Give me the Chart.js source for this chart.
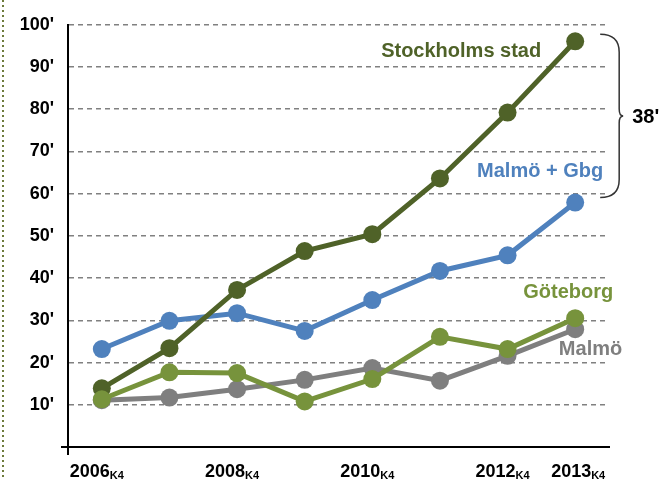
<!DOCTYPE html>
<html>
<head>
<meta charset="utf-8">
<script src="https://cdn.jsdelivr.net/npm/chart.js@4"></script>
<style>
  html, body { margin: 0; padding: 0; background: #fff; }
  #wrap { position: relative; width: 661px; height: 479px; }
  #edge {
    position: absolute; left: 2px; top: 0; width: 2px; height: 479px;
    background: repeating-linear-gradient(to bottom, #6E7B3B 0 2px, transparent 2px 5px);
  }
</style>
</head>
<body>
<div id="wrap">
  <div id="edge"></div>
  <canvas id="chart" width="661" height="479"></canvas>
</div>
<script>
const FONT = '"Liberation Sans", Arial, sans-serif';

const years      = ["2006", "2007", "2008", "2009", "2010", "2011", "2012", "2013"];
const tickYears  = ["2006", "2008", "2010", "2012", "2013"];
const tickSub    = "K4";

const stockholm  = [13.9, 23.4, 37.2, 46.4, 50.4, 63.6, 79.2, 96.1];
const malmoGbg   = [23.2, 29.9, 31.7, 27.5, 34.8, 41.7, 45.4, 57.9];
const goteborg   = [11.3, 17.7, 17.5, 10.8, 16.1, 26.1, 23.2, 30.5];
const malmo      = [11.1, 11.7, 13.7, 15.9, 18.7, 15.7, 21.6, 27.9];

const COLORS = {
  stockholm: "#4F6228", malmoGbg: "#4F81BD", goteborg: "#77933C", malmo: "#7F7F7F",
};

function series(label, data, color, order) {
  return {
    label, data, order,
    borderColor: color,
    backgroundColor: color,
    borderWidth: 5,
    pointRadius: 9,
    pointHoverRadius: 9,
    pointBorderWidth: 0,
    pointBackgroundColor: color,
    tension: 0,
  };
}

// labels, subscript ticks, brace, axis stubs
const extras = {
  id: "extras",
  afterDraw(chart) {
    const { ctx, chartArea: a, scales: { x, y } } = chart;
    const last = years[years.length - 1];
    const px = x.getPixelForValue(years.indexOf(last));

    ctx.save();

    // axis stubs past the corner
    ctx.strokeStyle = "#000";
    ctx.lineWidth = 2;
    ctx.beginPath();
    ctx.moveTo(a.left - 7, a.bottom);
    ctx.lineTo(a.left, a.bottom);
    ctx.moveTo(a.left, a.bottom);
    ctx.lineTo(a.left, a.bottom + 8);
    ctx.stroke();

    // x tick labels with subscript
    ctx.fillStyle = "#000";
    ctx.textBaseline = "alphabetic";
    ctx.textAlign = "left";
    tickYears.forEach((yr, i) => {
      const cx = x.getPixelForValue(years.indexOf(yr));
      ctx.font = `bold 18px ${FONT}`;
      const w1 = ctx.measureText(yr).width;
      ctx.font = `bold 11px ${FONT}`;
      const w2 = ctx.measureText(tickSub).width;
      const shift = i === tickYears.length - 1 ? 3 : -5;
      const sx = cx - (w1 + w2) / 2 + shift;
      ctx.font = `bold 18px ${FONT}`;
      ctx.fillText(yr, sx, a.bottom + 30);
      ctx.font = `bold 11px ${FONT}`;
      ctx.fillText(tickSub, sx + w1, a.bottom + 32);
    });

    // series labels
    ctx.font = `bold 20px ${FONT}`;
    ctx.textAlign = "right";
    ctx.textBaseline = "middle";
    const tags = [
      ["Stockholms stad", COLORS.stockholm, -34, 93.9],
      ["Malmö + Gbg",     COLORS.malmoGbg,  28, 65.6],
      ["Göteborg",        COLORS.goteborg,  38, 36.8],
      ["Malmö",           COLORS.malmo,     47, 23.4],
    ];
    tags.forEach(([txt, col, dx, v]) => {
      ctx.fillStyle = col;
      ctx.fillText(txt, px + dx, y.getPixelForValue(v) + 1);
    });

    // brace between Stockholm and Malmö + Gbg
    const top = y.getPixelForValue(stockholm[stockholm.length - 1]) - 7;
    const bot = y.getPixelForValue(malmoGbg[malmoGbg.length - 1]) - 5;
    const mid = (top + bot) / 2;
    const x0 = px + 25, x1 = px + 44, x2 = px + 48;
    ctx.strokeStyle = "#333";
    ctx.lineWidth = 1.5;
    ctx.beginPath();
    ctx.moveTo(x0, top);
    ctx.quadraticCurveTo(x1, top, x1, top + 18);
    ctx.lineTo(x1, mid - 7);
    ctx.quadraticCurveTo(x1, mid, x2, mid);
    ctx.quadraticCurveTo(x1, mid, x1, mid + 7);
    ctx.lineTo(x1, bot - 18);
    ctx.quadraticCurveTo(x1, bot, x0, bot);
    ctx.stroke();

    ctx.fillStyle = "#000";
    ctx.textAlign = "left";
    ctx.fillText("38'", px + 57, mid + 2);

    ctx.restore();
  },
};

new Chart(document.getElementById("chart"), {
  type: "line",
  data: {
    labels: years,
    datasets: [
      series("Göteborg", goteborg, COLORS.goteborg, 0),
      series("Stockholms stad", stockholm, COLORS.stockholm, 1),
      series("Malmö + Gbg", malmoGbg, COLORS.malmoGbg, 2),
      series("Malmö", malmo, COLORS.malmo, 3),
    ],
  },
  options: {
    responsive: false,
    animation: false,
    layout: { padding: { left: 18, right: 52, top: 24, bottom: 32 } },
    plugins: { legend: { display: false }, tooltip: { enabled: false } },
    scales: {
      x: {
        offset: true,
        ticks: { display: false },
        grid: { display: false, drawTicks: false },
        border: { display: true, color: "#000", width: 2 },
      },
      y: {
        min: 0,
        max: 100,
        afterFit: s => { s.width = 50; },
        ticks: {
          stepSize: 10,
          color: "#000",
          padding: 14,
          font: { family: FONT, size: 18, weight: "bold" },
          callback: v => v === 0 ? "" : v + "'",
        },
        grid: {
          drawTicks: false,
          color: c => c.tick && c.tick.value === 0 ? "rgba(0,0,0,0)" : "#808080",
          lineWidth: 1.5,
        },
        border: { display: true, color: "#000", width: 2, dash: [5, 4] },
      },
    },
  },
  plugins: [extras],
});
</script>
</body>
</html>
